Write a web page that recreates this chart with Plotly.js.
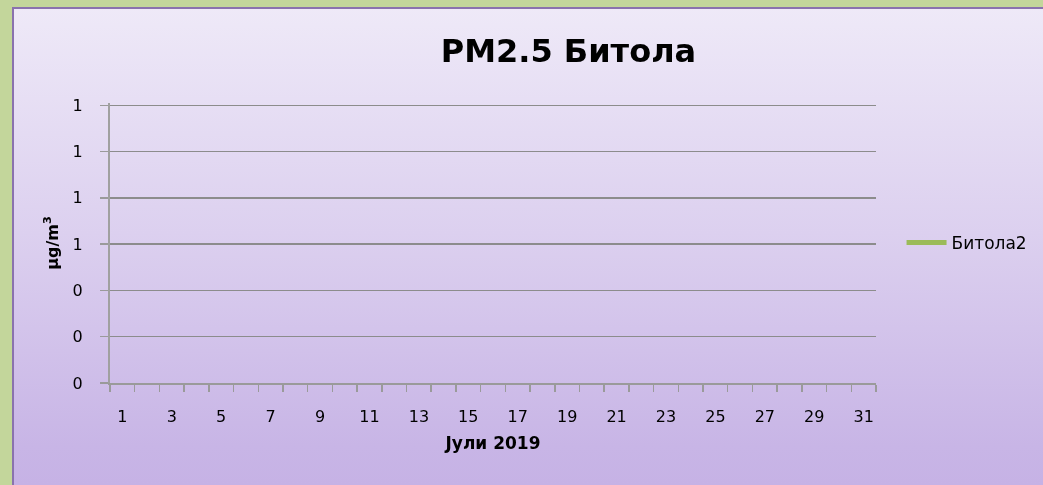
<!DOCTYPE html>
<html>
<head>
<meta charset="utf-8">
<script src="https://cdn.plot.ly/plotly-3.0.1.min.js"></script>
<style>
  html { margin: 0; padding: 0; background: linear-gradient(to bottom, #EFEAF8 0%, #DCD0EF 48%, #C8B5E6 92%, #C6B2E5 100%); min-height: 100%; }
  body { margin: 0; padding: 0; width: 1043px; height: 485px; overflow: hidden; background: transparent; }
  #gTop { position: fixed; left: 0; top: 0; width: 100%; height: 7px; background: #C3D69B; }
  #gLeft { position: fixed; left: 0; top: 0; width: 12px; height: 100%; background: #C3D69B; }
  #pTop { position: fixed; left: 12px; top: 7px; right: 0; height: 2px; background: #8A72AE; }
  #pLeft { position: fixed; left: 12px; top: 7px; width: 2px; bottom: 0; background: #8A72AE; }
  #chart { position: absolute; left: 0; top: 0; width: 1043px; height: 485px; }
</style>
</head>
<body>
<div id="gTop"></div><div id="gLeft"></div><div id="pTop"></div><div id="pLeft"></div>
<div id="chart"></div>
<script>
// Categories: days of July 2019
const days = [1,2,3,4,5,6,7,8,9,10,11,12,13,14,15,16,17,18,19,20,21,22,23,24,25,26,27,28,29,30,31];
// Series "Битола2" has no values in the reference (empty chart)
const bitola2 = [null,null,null,null,null,null,null,null,null,null,null,null,null,null,null,null,null,null,null,null,null,null,null,null,null,null,null,null,null,null,null];
const xLabelVals = [1,3,5,7,9,11,13,15,17,19,21,23,25,27,29,31];
const yTickVals = [0,0.2,0.4,0.6,0.8,1.0,1.2];

const FONT = '"Comic Sans MS", "DejaVu Sans", sans-serif';

const trace = {
  x: days, y: bitola2, type: 'scatter', mode: 'lines', name: 'Битола2',
  line: { color: '#9BBB59', width: 5 }, showlegend: true
};

const layout = {
  width: 1043, height: 485,
  margin: { l: 110, r: 166, t: 103, b: 102 },
  paper_bgcolor: 'rgba(0,0,0,0)', plot_bgcolor: 'rgba(0,0,0,0)',
  font: { family: FONT, color: '#000000', size: 16 },
  title: { text: '<b>PM2.5 Битола</b>', font: { family: FONT, size: 32, color: '#000' },
           x: 0.545, xanchor: 'center', y: 0.895, yanchor: 'middle' },
  xaxis: {
    type: 'linear', range: [0.5, 31.5], fixedrange: true,
    tickmode: 'array', tickvals: xLabelVals, ticktext: xLabelVals.map(String),
    ticks: '', ticklabelstandoff: 18,
    minor: { tick0: 0.5, dtick: 1, ticks: 'outside', ticklen: 7, tickcolor: '#9A9A9A', tickwidth: 1.5, showgrid: false },
    showgrid: false, zeroline: false,
    showline: true, linecolor: '#9A9A9A', linewidth: 2,
    tickfont: { family: FONT, size: 16 },
    title: { text: '<b>Јули 2019</b>', font: { family: FONT, size: 17 }, standoff: 12 }
  },
  yaxis: {
    range: [0, 1.21], fixedrange: true,
    tickmode: 'array', tickvals: yTickVals, tickformat: '.0f',
    ticks: 'outside', ticklen: 8, tickcolor: '#9A9A9A', tickwidth: 1.5,
    ticklabelstandoff: 14,
    showgrid: true, gridcolor: '#8C8C8C', gridwidth: 1.5,
    zeroline: false, showline: true, linecolor: '#A0A0A0', linewidth: 2,
    tickfont: { family: FONT, size: 16 },
    title: { text: '<b>μg/m<sup>3</sup></b>', font: { family: FONT, size: 16 }, standoff: 10 }
  },
  legend: { x: 1.032, xanchor: 'left', y: 0.5, yanchor: 'middle', bgcolor: 'rgba(0,0,0,0)',
            itemwidth: 40, font: { family: FONT, size: 17 } }
};

Plotly.newPlot('chart', [trace], layout, { displayModeBar: false, staticPlot: true });
</script>
</body>
</html>
